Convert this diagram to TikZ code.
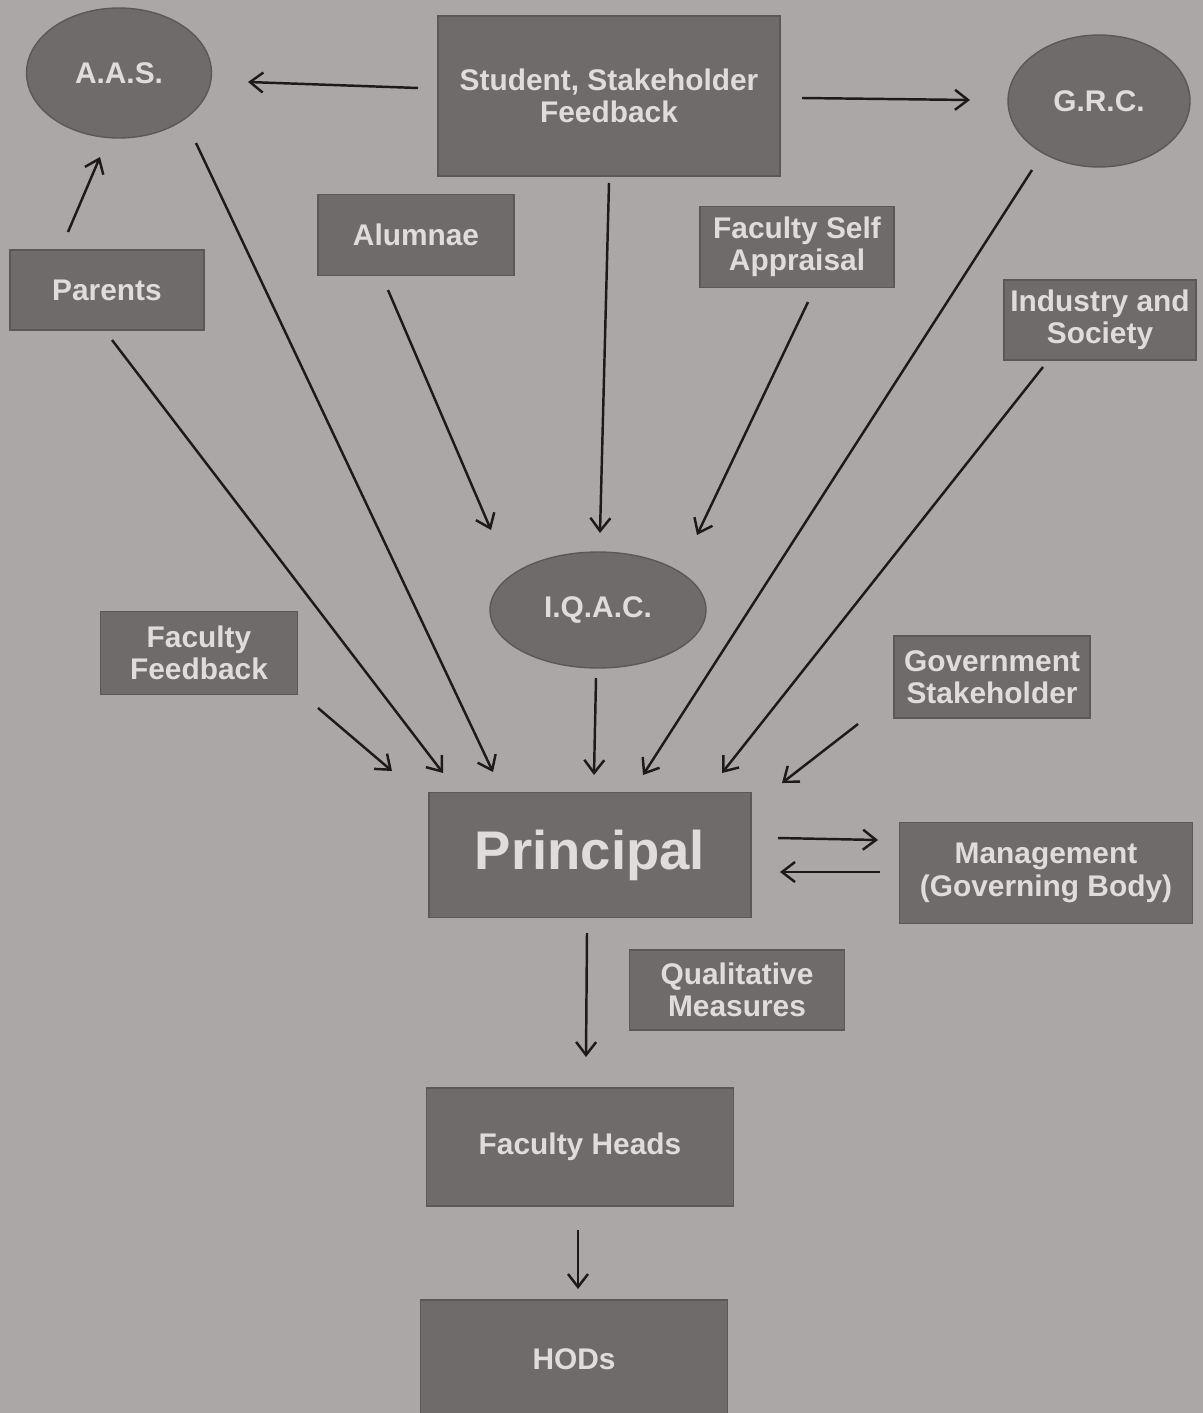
\documentclass[tikz,border=0pt]{standalone}
\usepackage{fontspec}
\setmainfont{Liberation Sans}
\usetikzlibrary{shapes.geometric,arrows.meta,calc}
\definecolor{bgc}{RGB}{171,167,166}
\definecolor{boxc}{RGB}{112,107,107}
\definecolor{boxe}{RGB}{92,88,88}
\definecolor{txtc}{RGB}{224,220,220}
\definecolor{arrc}{RGB}{28,26,26}
\begin{document}
\begin{tikzpicture}[x=0.02cm,y=-0.02cm,
  base/.style={fill=boxc,draw=boxe,line width=0.8pt,text=txtc,align=center,
    font=\fontsize{17}{18.5}\selectfont\bfseries,inner sep=0pt},
  rbox/.style={base,rectangle},
  oval/.style={base,ellipse},
  arr/.style={draw=arrc,line width=1.4pt,-{Straight Barb[length=2.6mm,width=4mm,line width=1.4pt]}}]
\clip (0,0) rectangle (1203,1413);
\fill[bgc] (0,0) rectangle (1203,1413);
% nodes
\node[oval,minimum width=3.7cm,minimum height=2.6cm] (aas) at (119,73) {A.A.S.};
\node[rbox,minimum width=6.84cm,minimum height=3.2cm] (stud) at (609,96) {Student, Stakeholder\\Feedback};
\node[oval,minimum width=3.64cm,minimum height=2.64cm] (grc) at (1099,101) {G.R.C.};
\node[rbox,minimum width=3.88cm,minimum height=1.6cm] (par) at (107,290) {Parents};
\node[rbox,minimum width=3.92cm,minimum height=1.62cm] (alum) at (416,235) {Alumnae};
\node[rbox,minimum width=3.88cm,minimum height=1.62cm] (fsa) at (797,247) {Faculty Self\\Appraisal};
\node[rbox,minimum width=3.84cm,minimum height=1.6cm] (ind) at (1100,320) {Industry and\\Society};
\node[oval,minimum width=4.32cm,minimum height=2.32cm] (iqac) at (598,610) {I.Q.A.C.};
\node[rbox,minimum width=3.94cm,minimum height=1.66cm] (ffb) at (199,653) {Faculty\\Feedback};
\node[rbox,minimum width=3.92cm,minimum height=1.64cm] (gov) at (992,677) {Government\\Stakeholder};
\node[rbox,minimum width=6.44cm,minimum height=2.5cm,font=\fontsize{31}{34}\selectfont\bfseries] (prin) at (590,855) {Principal};
\node[rbox,minimum width=5.86cm,minimum height=2.02cm] (mgmt) at (1046,873) {Management\\(Governing Body)};
\node[rbox,minimum width=4.3cm,minimum height=1.6cm] (qual) at (737,990) {Qualitative\\Measures};
\node[rbox,minimum width=6.14cm,minimum height=2.36cm] (fh) at (580,1147) {Faculty Heads};
\node[rbox,minimum width=6.14cm,minimum height=2.6cm,text depth=0pt] (hod) at (574,1365) {\raisebox{0.25cm}{HODs}};
% connectors
\draw[arr] ($(stud)+(-191,-8)$) -- ($(aas)+(129,9)$);
\draw[arr] ($(stud)+(193,2)$) -- ($(grc)+(-129,-1)$);
\draw[arr] ($(par)+(-39,-58)$) -- ($(aas)+(-19,84)$);
\draw[arr] ($(aas)+(77,70)$) -- ($(prin)+(-97,-83)$);
\draw[arr] ($(par)+(5,50)$) -- ($(prin)+(-147,-82)$);
\draw[arr] ($(alum)+(-28,55)$) -- ($(iqac)+(-107,-80)$);
\draw[arr] ($(stud)+(0,87)$) -- ($(iqac)+(2,-77)$);
\draw[arr] ($(fsa)+(11,55)$) -- ($(iqac)+(99,-75)$);
\draw[arr] ($(grc)+(-67,69)$) -- ($(prin)+(53,-80)$);
\draw[arr] ($(ind)+(-57,47)$) -- ($(prin)+(132,-82)$);
\draw[arr] ($(iqac)+(-2,68)$) -- ($(prin)+(4,-80)$);
\draw[arr] ($(ffb)+(119,55)$) -- ($(prin)+(-198,-84)$);
\draw[arr] ($(gov)+(-134,47)$) -- ($(prin)+(192,-72)$);
\draw[arr] ($(prin)+(188,-17)$) -- ($(mgmt)+(-168,-33)$);
\draw[arr] ($(mgmt)+(-166,-1)$) -- ($(prin)+(190,17)$);
\draw[arr] ($(prin)+(-3,78)$) -- ($(fh)+(6,-90)$);
\draw[arr] ($(fh)+(-2,83)$) -- ($(hod)+(4,-76)$);
\end{tikzpicture}
\end{document}
